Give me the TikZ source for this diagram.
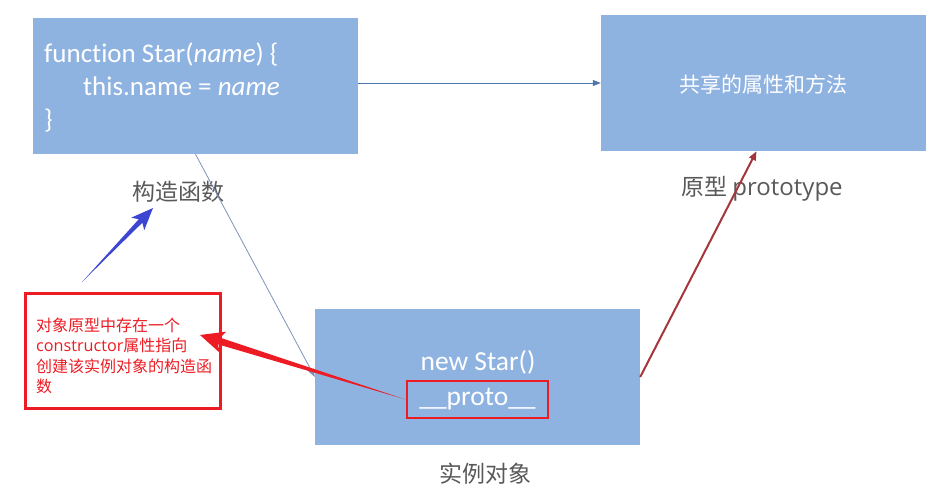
\documentclass[tikz,border=0pt]{standalone}
\usepackage{fontspec}
\setmainfont{Carlito}[Ligatures=NoCommon]
\newfontfamily\cjk{Noto Sans CJK SC}
\newfontfamily\latinsans{Open Sans}
\usetikzlibrary{calc,arrows.meta}
\definecolor{boxblue}{RGB}{143,179,225}
\definecolor{capgray}{RGB}{89,89,89}
\definecolor{linkblue}{RGB}{79,119,175}
\definecolor{linkgray}{RGB}{125,148,182}
\definecolor{protored}{RGB}{165,55,60}
\definecolor{pointblue}{RGB}{60,70,210}
\definecolor{notered}{RGB}{237,28,36}

\begin{document}
\begin{tikzpicture}[x=1pt,y=-1pt]
\tikzstyle{objbox}=[fill=boxblue,minimum width=325pt,minimum height=136pt,inner sep=0pt]
\tikzstyle{caption}=[text=capgray,font=\cjk\fontsize{23}{28}\selectfont]
\tikzstyle{boxtext}=[text=white,font=\fontsize{27.5}{32}\selectfont,inner sep=0pt]
	%    background and frame
    \useasboundingbox (0,0) rectangle (945,496);
    \fill[white] (0,0) rectangle (945,496);
    \node[objbox] (ctor) at (195.5,86) {};
    \node[objbox] (proto) at (763.5,83) {};
    \node[objbox] (inst) at (477.5,377) {};
    \node[boxtext,anchor=west,align=left,font=\fontsize{27}{33}\selectfont] (ctorcode) at (44,87)
        {function Star(\textit{name}) \{\\ \hspace{39pt}this.name = \textit{name}\\ \}};
    \node[boxtext,font=\cjk\fontsize{21}{25}\selectfont] (protocode) at (763.5,84) {共享的属性和方法};
    \node[boxtext] (newstar) at (478,362) {new Star()};
    \node[boxtext,draw=notered,line width=2.5pt,minimum width=141pt,minimum height=37pt] (protofield) at (477.5,399.5) {\_\_proto\_\_};
    \node[caption] (ctorlabel) at (178,192) {构造函数};
    \node[caption] (protolabel) at (762,189) {原型 {\latinsans\fontsize{24}{28}\selectfont prototype}};
    \node[caption] (instlabel) at (485,474) {实例对象};
    \node[draw=notered,line width=3pt,minimum width=195pt,minimum height=115pt] (note) at (122.5,350.5) {};
    \node[anchor=west,align=left,text=notered,inner sep=0pt,font=\cjk\fontsize{16}{20.5}\selectfont] (notetext) at (36,356)
        {对象原型中存在一个\\{\latinsans\fontsize{16.2}{20.5}\selectfont constructor}属性指向\\创建该实例对象的构造函\\数};
	%    connectors
    \draw[linkblue,line width=0.8pt,-{Triangle[length=8pt,width=6pt]}] (ctor.east |- proto.west) -- (proto.west);
    \draw[linkgray,line width=0.8pt,-{Triangle[length=8pt,width=6pt]}] (ctor.south) -- (inst.west);
    \draw[protored,line width=2pt,-{Triangle[length=9pt,width=7pt]}] (inst.east) -- ($(proto.south)+(-7,0)$);
    \coordinate (bluetail) at (82,282);
    \coordinate (bluetip) at (153,208);
    \coordinate (bluebase) at ($(bluetip)!18pt!(bluetail)$);
    \coordinate (bluewing) at ($(bluetip)!22pt!(bluetail)$);
    \fill[pointblue] (bluetail) -- ($(bluebase)!2.5pt!90:(bluetip)$) -- ($(bluewing)!9pt!90:(bluetip)$) -- (bluetip)
        -- ($(bluewing)!9pt!-90:(bluetip)$) -- ($(bluebase)!2.5pt!-90:(bluetip)$) -- cycle;
    \coordinate (redtip) at (200,335);
    \coordinate (redbase) at ($(redtip)!20pt!(protofield.west)$);
    \coordinate (redwing) at ($(redtip)!24pt!(protofield.west)$);
    \fill[notered] (protofield.west) -- ($(redbase)!3.5pt!90:(redtip)$) -- ($(redwing)!11pt!90:(redtip)$) -- (redtip)
        -- ($(redwing)!11pt!-90:(redtip)$) -- ($(redbase)!3.5pt!-90:(redtip)$) -- cycle;
\end{tikzpicture}
\end{document}
